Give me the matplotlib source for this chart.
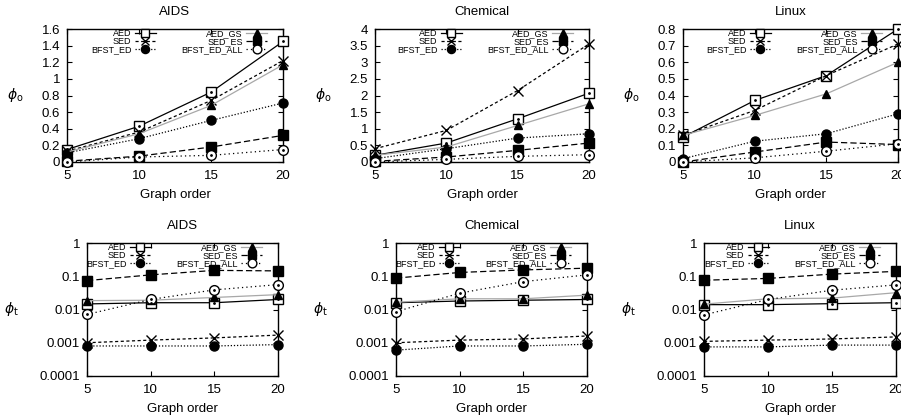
import numpy as np
import matplotlib
matplotlib.use("Agg")
import matplotlib.pyplot as plt

plt.rcParams['font.family'] = ['Liberation Sans', 'DejaVu Sans']
plt.rcParams['mathtext.fontset'] = 'dejavusans'

orders = [5, 10, 15, 20]
methods = ["AED", "SED", "BFST_ED", "AED_GS", "SED_ES", "BFST_ED_ALL"]

# phi_o (top row)
aids_o = {
    "AED": [0.15, 0.43, 0.84, 1.45],
    "SED": [0.13, 0.36, 0.74, 1.22],
    "BFST_ED": [0.11, 0.28, 0.50, 0.71],
    "AED_GS": [0.12, 0.34, 0.68, 1.17],
    "SED_ES": [0.01, 0.07, 0.18, 0.32],
    "BFST_ED_ALL": [0.0, 0.06, 0.08, 0.15],
}
chem_o = {
    "AED": [0.20, 0.57, 1.30, 2.07],
    "SED": [0.40, 0.95, 2.15, 3.55],
    "BFST_ED": [0.10, 0.40, 0.72, 0.85],
    "AED_GS": [0.20, 0.45, 1.10, 1.75],
    "SED_ES": [0.02, 0.15, 0.35, 0.57],
    "BFST_ED_ALL": [0.0, 0.08, 0.17, 0.22],
}
linux_o = {
    "AED": [0.15, 0.37, 0.52, 0.80],
    "SED": [0.16, 0.31, 0.52, 0.71],
    "BFST_ED": [0.02, 0.125, 0.17, 0.29],
    "AED_GS": [0.16, 0.28, 0.41, 0.60],
    "SED_ES": [0.0, 0.06, 0.12, 0.105],
    "BFST_ED_ALL": [0.0, 0.025, 0.065, 0.11],
}

# phi_t (bottom row, log scale)
aids_t = {
    "AED": [0.0147, 0.016, 0.016, 0.020],
    "SED": [0.0010, 0.0012, 0.0014, 0.0017],
    "BFST_ED": [0.0008, 0.0008, 0.0008, 0.00088],
    "AED_GS": [0.0185, 0.019, 0.023, 0.028],
    "SED_ES": [0.074, 0.11, 0.15, 0.145],
    "BFST_ED_ALL": [0.0071, 0.020, 0.039, 0.056],
}
chem_t = {
    "AED": [0.016, 0.018, 0.019, 0.020],
    "SED": [0.0010, 0.0012, 0.0013, 0.0016],
    "BFST_ED": [0.0006, 0.0008, 0.0008, 0.0009],
    "AED_GS": [0.0165, 0.021, 0.021, 0.027],
    "SED_ES": [0.088, 0.13, 0.155, 0.175],
    "BFST_ED_ALL": [0.0086, 0.031, 0.069, 0.11],
}
linux_t = {
    "AED": [0.014, 0.014, 0.015, 0.016],
    "SED": [0.0011, 0.0012, 0.0013, 0.0015],
    "BFST_ED": [0.00075, 0.00075, 0.00085, 0.00085],
    "AED_GS": [0.0145, 0.021, 0.022, 0.032],
    "SED_ES": [0.076, 0.086, 0.116, 0.14],
    "BFST_ED_ALL": [0.0069, 0.020, 0.038, 0.055],
}

styles = {
    "AED": dict(color="black", ls="-", marker="s", mfc="white", mec="black", ms=7),
    "SED": dict(color="black", ls=(0, (2.5, 2)), marker="x", mec="black", ms=7, mew=1.0),
    "BFST_ED": dict(color="black", ls=(0, (1, 1.5)), marker="o", mfc="black", mec="black", ms=6.5),
    "AED_GS": dict(color="#a8a8a8", ls="-", marker="^", mfc="black", mec="black", ms=6),
    "SED_ES": dict(color="black", ls=(0, (5, 2.5)), marker="s", mfc="black", mec="black", ms=6.5),
    "BFST_ED_ALL": dict(color="black", ls=(0, (1, 2.5)), marker="o", mfc="white", mec="black", ms=7),
}
dotted_centre = ["AED", "BFST_ED_ALL"]

W, H = 901.0, 420.0
# axes boxes in pixels: left, top, right, bottom
boxes_top = [(67, 29, 283, 162), (375, 29, 589, 162), (683, 29, 898, 162)]
boxes_bot = [(87, 243, 278, 376), (396, 243, 587, 376), (704, 243, 896, 376)]
titles = ["AIDS", "Chemical", "Linux"]
top_data = [aids_o, chem_o, linux_o]
bot_data = [aids_t, chem_t, linux_t]
top_ylim = [(0, 1.6), (0, 4), (0, 0.8)]
top_yticks = [np.arange(0, 1.61, 0.2), np.arange(0, 4.01, 0.5), np.arange(0, 0.81, 0.1)]

fig = plt.figure(figsize=(9.01, 4.2), dpi=100)


def make_ax(box):
    l, t, r, b = box
    return fig.add_axes([l / W, 1 - b / H, (r - l) / W, (b - t) / H])


def draw(ax, data, box, ylab_off, ylab):
    for m in methods:
        st = styles[m]
        ax.plot(orders, data[m], lw=0.9, label=m, clip_on=False, zorder=3, **st)
        if m in dotted_centre:
            ax.plot(orders, data[m], ls="none", marker=".", ms=2, color="black",
                    clip_on=False, zorder=4)
    ax.set_xlim(5, 20)
    ax.set_xticks(orders)
    ax.tick_params(direction="in", top=True, right=True, length=3.5, width=0.8,
                   labelsize=9.5)
    ax.tick_params(axis="x", pad=6)
    ax.tick_params(axis="y", pad=5)
    ax.tick_params(which="minor", length=0)
    for s in ax.spines.values():
        s.set_linewidth(1.0)
    ax.set_xlabel("Graph order", fontsize=9.5, labelpad=5)
    w = box[2] - box[0]
    ax.set_ylabel(ylab, fontsize=10, rotation=0, va="center", ha="center")
    ax.yaxis.set_label_coords(ylab_off / w, 0.5)
    ax.legend(ncol=2, markerfirst=False, frameon=False, fontsize=6.5,
              loc="upper right", bbox_to_anchor=(1 - 16.0 / w, 1.0),
              borderaxespad=0, handlelength=2.3, handletextpad=0.4,
              labelspacing=-0.1, columnspacing=2.8, borderpad=0,
              markerscale=0.9)


for i in range(3):
    ax = make_ax(boxes_top[i])
    draw(ax, top_data[i], boxes_top[i], -52, r"$\phi_{\rm o}$")
    ax.set_ylim(*top_ylim[i])
    ax.set_yticks(top_yticks[i])
    ax.set_yticklabels(["%g" % round(v, 2) for v in top_yticks[i]])
    ax.set_title(titles[i], fontsize=9.5, pad=10)

    ax = make_ax(boxes_bot[i])
    ax.set_yscale("log")
    draw(ax, bot_data[i], boxes_bot[i], -76, r"$\phi_{\rm t}$")
    ax.set_ylim(1e-4, 1)
    ticks = [1e-4, 1e-3, 1e-2, 1e-1, 1]
    ax.set_yticks(ticks)
    ax.set_yticklabels(["0.0001", "0.001", "0.01", "0.1", "1"])
    ax.set_title(titles[i], fontsize=9.5, pad=10)

fig.savefig("out.png", dpi=100)
